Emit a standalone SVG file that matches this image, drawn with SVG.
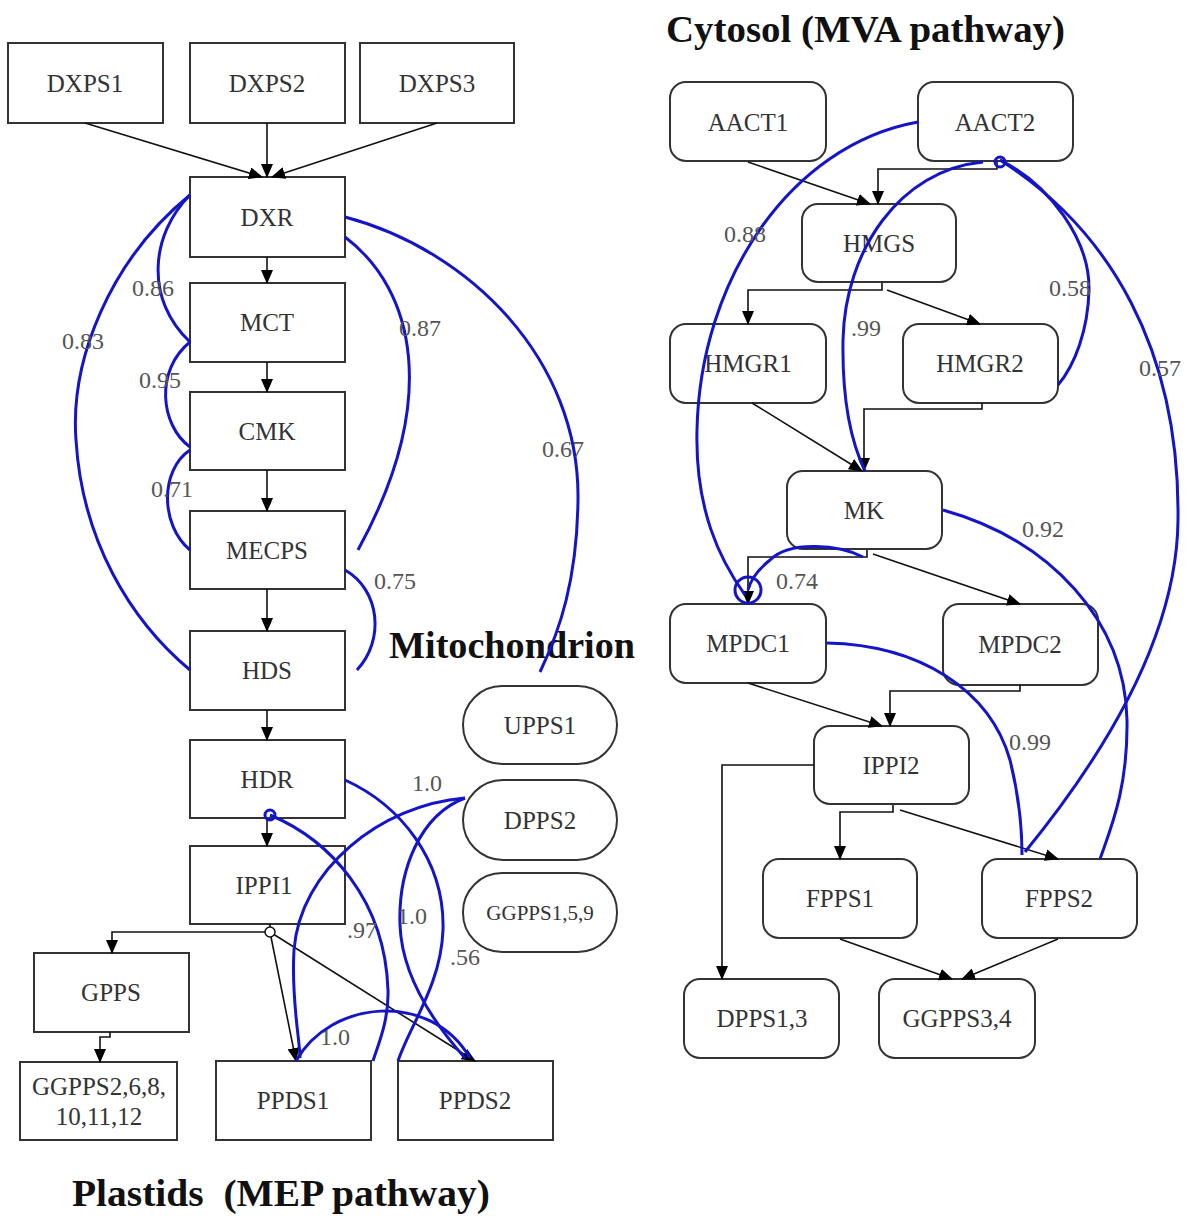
<svg xmlns="http://www.w3.org/2000/svg" width="1188" height="1216" viewBox="0 0 1188 1216">
<style>
.n rect{fill:#fff;stroke:#333;stroke-width:2}
.n text{font-family:"Liberation Serif",serif;font-size:25px;fill:#333;text-anchor:middle}
.e{fill:none;stroke:#111;stroke-width:1.6}
.b{fill:none;stroke:#1414c8;stroke-width:3}
.lbl{font-family:"Liberation Serif",serif;font-size:24px;fill:#555;text-anchor:middle}
.title{font-family:"Liberation Serif",serif;font-weight:bold;font-size:38px;fill:#111}
</style>
<defs>
<marker id="ar" markerUnits="userSpaceOnUse" markerWidth="14" markerHeight="12" refX="13" refY="6" orient="auto">
<path d="M0,0 L14,6 L0,12 z" fill="#000"/>
</marker>
</defs>
<rect width="1188" height="1216" fill="#fff"/>

<text class="title" x="666" y="42" textLength="399" lengthAdjust="spacingAndGlyphs">Cytosol (MVA pathway)</text>
<text class="title" x="389" y="658" textLength="246" lengthAdjust="spacingAndGlyphs">Mitochondrion</text>
<text class="title" x="72" y="1206" style="white-space:pre" textLength="418" lengthAdjust="spacingAndGlyphs">Plastids  (MEP pathway)</text>

<g id="DXPS1" class="n"><rect x="8" y="43" width="155" height="80"/><text x="85" y="92">DXPS1</text></g>
<g id="DXPS2" class="n"><rect x="190" y="43" width="155" height="80"/><text x="267" y="92">DXPS2</text></g>
<g id="DXPS3" class="n"><rect x="360" y="43" width="154" height="80"/><text x="437" y="92">DXPS3</text></g>
<g id="DXR" class="n"><rect x="190" y="177" width="155" height="80"/><text x="267" y="226">DXR</text></g>
<g id="MCT" class="n"><rect x="190" y="283" width="155" height="79"/><text x="267" y="331">MCT</text></g>
<g id="CMK" class="n"><rect x="190" y="392" width="155" height="78"/><text x="267" y="440">CMK</text></g>
<g id="MECPS" class="n"><rect x="190" y="511" width="155" height="78"/><text x="267" y="559">MECPS</text></g>
<g id="HDS" class="n"><rect x="190" y="631" width="155" height="79"/><text x="267" y="679">HDS</text></g>
<g id="HDR" class="n"><rect x="190" y="740" width="155" height="78"/><text x="267" y="788">HDR</text></g>
<g id="IPPI1" class="n"><rect x="190" y="846" width="155" height="78"/><text x="264" y="894">IPPI1</text></g>
<g id="GPPS" class="n"><rect x="34" y="953" width="155" height="79"/><text x="111" y="1001">GPPS</text></g>
<g id="GGPPS2" class="n"><rect x="20" y="1062" width="157" height="78"/><text x="99" y="1095">GGPPS2,6,8,</text><text x="99" y="1125">10,11,12</text></g>
<g id="PPDS1" class="n"><rect x="216" y="1061" width="155" height="79"/><text x="293" y="1109">PPDS1</text></g>
<g id="PPDS2" class="n"><rect x="398" y="1061" width="155" height="79"/><text x="475" y="1109">PPDS2</text></g>

<g id="UPPS1" class="n"><rect x="463" y="686" width="154" height="78" rx="39"/><text x="540" y="734">UPPS1</text></g>
<g id="DPPS2" class="n"><rect x="463" y="780" width="154" height="80" rx="40"/><text x="540" y="829">DPPS2</text></g>
<g id="GGPPS159" class="n"><rect x="463" y="873" width="154" height="79" rx="39"/><text x="540" y="920" style="font-size:21px">GGPPS1,5,9</text></g>

<g id="AACT1" class="n"><rect x="670" y="82" width="156" height="79" rx="16"/><text x="748" y="131">AACT1</text></g>
<g id="AACT2" class="n"><rect x="918" y="82" width="155" height="79" rx="16"/><text x="995" y="131">AACT2</text></g>
<g id="HMGS" class="n"><rect x="802" y="204" width="154" height="78" rx="16"/><text x="879" y="252">HMGS</text></g>
<g id="HMGR1" class="n"><rect x="670" y="324" width="156" height="79" rx="16"/><text x="748" y="372">HMGR1</text></g>
<g id="HMGR2" class="n"><rect x="903" y="324" width="155" height="79" rx="16"/><text x="980" y="372">HMGR2</text></g>
<g id="MK" class="n"><rect x="787" y="471" width="155" height="78" rx="16"/><text x="864" y="519">MK</text></g>
<g id="MPDC1" class="n"><rect x="670" y="604" width="156" height="79" rx="16"/><text x="748" y="652">MPDC1</text></g>
<g id="MPDC2" class="n"><rect x="943" y="604" width="155" height="81" rx="16"/><text x="1020" y="653">MPDC2</text></g>
<g id="IPPI2" class="n"><rect x="814" y="726" width="155" height="78" rx="16"/><text x="891" y="774">IPPI2</text></g>
<g id="FPPS1" class="n"><rect x="763" y="859" width="154" height="79" rx="16"/><text x="840" y="907">FPPS1</text></g>
<g id="FPPS2" class="n"><rect x="982" y="859" width="155" height="79" rx="16"/><text x="1059" y="907">FPPS2</text></g>
<g id="DPPS13" class="n"><rect x="684" y="979" width="155" height="79" rx="16"/><text x="762" y="1027">DPPS1,3</text></g>
<g id="GGPPS34" class="n"><rect x="879" y="979" width="156" height="79" rx="16"/><text x="957" y="1027">GGPPS3,4</text></g>

<g id="connectors">
<g id="black-edges" marker-end="url(#ar)">
<path class="e" d="M85,123 L262,177"/>
<path class="e" d="M267,123 L267,177"/>
<path class="e" d="M437,123 L272,177"/>
<path class="e" d="M267,257 L267,283"/>
<path class="e" d="M267,362 L267,392"/>
<path class="e" d="M267,470 L267,511"/>
<path class="e" d="M267,589 L267,631"/>
<path class="e" d="M267,710 L267,740"/>
<path class="e" d="M267,818 L267,846"/>
<path class="e" d="M270,924 L270,932 L112,932 L112,953"/>
<path class="e" d="M270,932 L296,1061"/>
<path class="e" d="M270,932 L475,1061"/>
<path class="e" d="M110,1032 L110,1037 L100,1037 L100,1062"/>
<path class="e" d="M748,162 L870,204"/>
<path class="e" d="M997,162 L997,169 L878,169 L878,204"/>
<path class="e" d="M882,283 L882,290 L748,290 L748,324"/>
<path class="e" d="M887,290 L980,324"/>
<path class="e" d="M752,403 L862,471"/>
<path class="e" d="M982,403 L982,409 L864,409 L864,471"/>
<path class="e" d="M867,550 L867,557 L748,557 L748,604"/>
<path class="e" d="M873,554 L1020,604"/>
<path class="e" d="M748,683 L882,726"/>
<path class="e" d="M1020,685 L1020,691 L890,691 L890,726"/>
<path class="e" d="M814,765 L722,765 L722,979"/>
<path class="e" d="M893,805 L893,812 L840,812 L840,859"/>
<path class="e" d="M900,810 L1058,859"/>
<path class="e" d="M840,939 L952,979"/>
<path class="e" d="M1058,939 L962,979"/>
</g>
<circle cx="270" cy="932" r="5" fill="#fff" stroke="#111" stroke-width="1.5"/>

<g id="blue-edges">
<path class="b" d="M190,195 C110,260 70,360 76,440 C82,540 130,620 190,670"/>
<path class="b" d="M190,195 C150,235 145,300 190,342"/>
<path class="b" d="M190,342 C155,370 160,425 190,447"/>
<path class="b" d="M190,450 C160,470 160,525 190,550"/>
<path class="b" d="M345,237 C415,290 440,400 358,550"/>
<path class="b" d="M345,217 C470,250 580,360 578,500 C577,580 560,630 540,672"/>
<path class="b" d="M345,570 C380,590 385,640 357,670"/>
<path class="b" d="M345,780 C400,805 445,860 443,930 C441,985 410,1025 398,1061"/>
<path class="b" d="M465,798 C380,805 300,870 294,950 C291,1000 300,1040 300,1058"/>
<path class="b" d="M465,798 C420,815 398,870 400,925 C402,980 440,1030 465,1058"/>
<path class="b" d="M270,815 C330,840 385,900 388,990 C389,1020 378,1045 373,1061"/>
<path class="b" d="M296,1061 C330,1000 430,990 470,1058"/>
<circle class="b" cx="270" cy="815" r="5"/>

<path class="b" d="M918,122 C790,145 700,280 697,430 C695,510 720,560 745,595"/>
<path class="b" d="M983,162 C900,170 845,250 843,340 C842,400 850,440 865,471"/>
<path class="b" d="M1000,160 C1050,185 1090,240 1089,290 C1088,330 1075,365 1058,385"/>
<path class="b" d="M1000,160 C1110,230 1180,350 1178,520 C1177,640 1100,760 1025,852"/>
<path class="b" d="M943,510 C1050,540 1125,620 1127,720 C1128,790 1110,830 1100,859"/>
<path class="b" d="M827,643 C920,645 990,690 1010,760 C1020,800 1022,830 1022,855"/>
<path class="b" d="M863,557 C840,545 790,540 770,560 C755,572 750,582 748,590"/>
<circle class="b" cx="748" cy="590" r="13"/>
<circle class="b" cx="1000" cy="162" r="5"/>
</g>

<g id="edge-labels">
<text class="lbl" x="153" y="296">0.86</text>
<text class="lbl" x="83" y="349">0.83</text>
<text class="lbl" x="160" y="388">0.95</text>
<text class="lbl" x="172" y="497">0.71</text>
<text class="lbl" x="420" y="336">0.87</text>
<text class="lbl" x="563" y="457">0.67</text>
<text class="lbl" x="395" y="589">0.75</text>
<text class="lbl" x="427" y="791">1.0</text>
<text class="lbl" x="362" y="938">.97</text>
<text class="lbl" x="412" y="924">1.0</text>
<text class="lbl" x="465" y="965">.56</text>
<text class="lbl" x="335" y="1045">1.0</text>
<text class="lbl" x="745" y="242">0.88</text>
<text class="lbl" x="866" y="336">.99</text>
<text class="lbl" x="1070" y="296">0.58</text>
<text class="lbl" x="1160" y="376">0.57</text>
<text class="lbl" x="1043" y="537">0.92</text>
<text class="lbl" x="797" y="589">0.74</text>
<text class="lbl" x="1030" y="750">0.99</text>
</g>
</g>
</svg>
